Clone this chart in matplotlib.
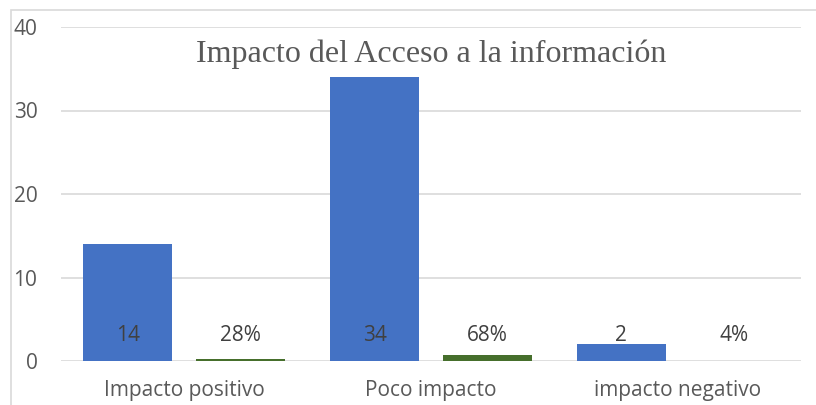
import numpy as np
import matplotlib
matplotlib.use('Agg')
import matplotlib.pyplot as plt
from matplotlib.patches import Rectangle

# data
categories = ['Impacto positivo', 'Poco impacto', 'impacto negativo']
counts = [14, 34, 2]
shares = [0.28, 0.68, 0.04]
y_ticks = [0, 10, 20, 30, 40]

COLOR_COUNT = '#4472C4'
COLOR_SHARE = '#466F2C'
COLOR_GRID = '#D9D9D9'
COLOR_TEXT = '#595959'
COLOR_LABEL = '#404040'

plt.rcParams['font.family'] = ['Open Sans', 'DejaVu Sans']

fig = plt.figure(figsize=(8.16, 4.05), dpi=100)
ax = fig.add_axes([61 / 816, 1 - 361 / 405, 740 / 816, 334 / 405])

x = np.arange(len(categories))
w = 0.36
off = 0.229
ax.bar(x - off, counts, width=w, color=COLOR_COUNT, zorder=3)
ax.bar(x + off, shares, width=w, color=COLOR_SHARE, zorder=3)

for xi, c, s in zip(x, counts, shares):
    ax.text(xi - off, 3.0, f'{c}', ha='center', va='center',
            fontsize=15, color=COLOR_LABEL, zorder=4)
    ax.text(xi + off, 3.0, f'{s:.0%}', ha='center', va='center',
            fontsize=15, color=COLOR_LABEL, zorder=4)

ax.set_xlim(-0.5, 2.5)
ax.set_ylim(0, 40)
ax.set_yticks(y_ticks)
ax.set_xticks(x)
ax.set_xticklabels(categories)
ax.tick_params(axis='both', length=0, labelsize=15, colors=COLOR_TEXT)
ax.tick_params(axis='y', pad=17)
ax.tick_params(axis='x', pad=14)
ax.grid(axis='y', color=COLOR_GRID, linewidth=1.2, zorder=0)
for sp in ax.spines.values():
    sp.set_visible(False)

ax.text(0.5, 0.918, 'Impacto del Acceso a la información',
        transform=ax.transAxes, ha='center', va='center',
        fontsize=23, color=COLOR_TEXT, family='Liberation Serif')

# outer chart frame (cropped on right and bottom)
fig.patches.append(Rectangle((10.5 / 816, -0.1), 1.2, 1.1 - 10.5 / 405,
                             transform=fig.transFigure, fill=False,
                             edgecolor=COLOR_GRID, linewidth=1.2))

fig.savefig('out.png', dpi=100)
